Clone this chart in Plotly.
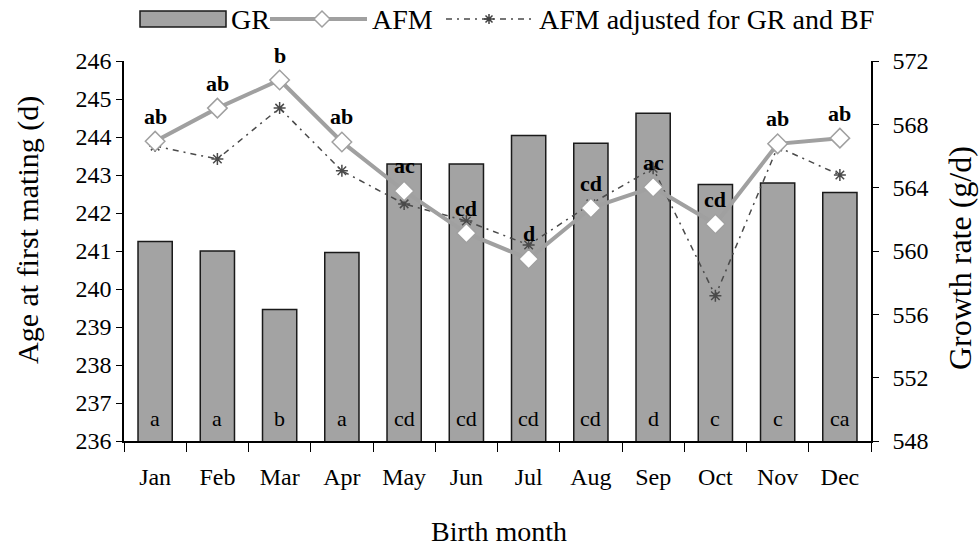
import plotly.graph_objects as go

months = ["Jan", "Feb", "Mar", "Apr", "May", "Jun", "Jul", "Aug", "Sep", "Oct", "Nov", "Dec"]
gr = [560.6, 560.0, 556.3, 559.9, 565.5, 565.5, 567.3, 566.8, 568.7, 564.2, 564.3, 563.7]
afm = [243.89, 244.76, 245.5, 243.87, 242.58, 241.47, 240.79, 242.13, 242.68, 241.71, 243.82, 243.97]
afm_adj = [243.76, 243.42, 244.76, 243.11, 242.24, 241.79, 241.16, 242.24, 243.18, 239.82, 243.74, 243.0]
afm_letters = ["ab", "ab", "b", "ab", "ac", "cd", "d", "cd", "ac", "cd", "ab", "ab"]
gr_letters = ["a", "a", "b", "a", "cd", "cd", "cd", "cd", "d", "c", "c", "ca"]

FONT = "Liberation Serif, Times New Roman, serif"
L, R, T, B = 124, 109, 61, 105
W, H = 980, 546
PW, PH = W - L - R, H - T - B


def px(x):
    return (x - L) / PW


def py(y):
    return (H - B - y) / PH


fig = go.Figure()
fig.add_trace(go.Bar(x=months, y=gr, name="GR", yaxis="y", width=0.55,
                     marker=dict(color="#a3a3a3", line=dict(color="#1a1a1a", width=1.5)),
                     showlegend=False))
fig.add_trace(go.Scatter(x=months, y=afm_adj, name="AFM adjusted for GR and BF", yaxis="y2",
                         mode="lines+markers",
                         line=dict(color="#4a4a4a", width=1.5, dash="6px,5px,2px,5px"),
                         marker=dict(symbol="asterisk-open", size=10, line=dict(color="#404040", width=1.5)),
                         showlegend=False))
fig.add_trace(go.Scatter(x=months, y=afm, name="AFM", yaxis="y2", mode="lines+markers",
                         line=dict(color="#a0a0a0", width=4),
                         marker=dict(symbol="diamond", size=15, color="white",
                                     line=dict(color="#a0a0a0", width=1.5)),
                         showlegend=False))

ann = []
for m, v, t in zip(months, afm, afm_letters):
    ann.append(dict(x=m, y=v, xref="x", yref="y2", text="<b>" + t + "</b>", showarrow=False,
                    yshift=25, font=dict(family=FONT, size=22, color="black")))
for m, t in zip(months, gr_letters):
    ann.append(dict(x=m, y=548, xref="x", yref="y", text=t, showarrow=False, yanchor="bottom",
                    yshift=8, font=dict(family=FONT, size=22, color="black")))

# axis titles
ann.append(dict(x=px(499), y=py(531), xref="paper", yref="paper", text="Birth month", showarrow=False,
                xanchor="center", yanchor="middle", font=dict(family=FONT, size=28, color="black")))
ann.append(dict(x=px(28), y=py(230), xref="paper", yref="paper", text="Age at first mating (d)",
                xanchor="center", yanchor="middle",
                showarrow=False, textangle=-90, font=dict(family=FONT, size=30, color="black")))
ann.append(dict(x=px(960), y=py(258), xref="paper", yref="paper", text="Growth rate (g/d)",
                xanchor="center", yanchor="middle",
                showarrow=False, textangle=-90, font=dict(family=FONT, size=32, color="black")))

# legend
ly = 19
legend_text = [("GR", 229), ("AFM", 370), ("AFM adjusted for GR and BF", 537)]
for t, x0 in legend_text:
    ann.append(dict(x=px(x0), y=py(ly), xref="paper", yref="paper", text=t, showarrow=False,
                    xanchor="left", yanchor="middle", font=dict(family=FONT, size=28, color="black")))

shapes = [
    dict(type="rect", xref="paper", yref="paper", x0=px(140), x1=px(226), y0=py(27), y1=py(11),
         fillcolor="#a3a3a3", line=dict(color="#1a1a1a", width=1.5)),
    dict(type="line", xref="paper", yref="paper", x0=px(270), x1=px(367), y0=py(ly), y1=py(ly),
         line=dict(color="#a0a0a0", width=4)),
    dict(type="path", xref="paper", yref="paper",
         path=f"M {px(314)},{py(ly)} L {px(322)},{py(ly-8)} L {px(330)},{py(ly)} L {px(322)},{py(ly+8)} Z",
         fillcolor="white", line=dict(color="#a0a0a0", width=1.5)),
    dict(type="line", xref="paper", yref="paper", x0=px(446), x1=px(531), y0=py(ly), y1=py(ly),
         line=dict(color="#4a4a4a", width=1.5, dash="6px,5px,2px,5px")),
    dict(type="path", xref="paper", yref="paper",
         path=(f"M {px(484)},{py(ly)} L {px(494)},{py(ly)} "
               f"M {px(489)},{py(ly-5)} L {px(489)},{py(ly+5)} "
               f"M {px(485.5)},{py(ly-3.5)} L {px(492.5)},{py(ly+3.5)} "
               f"M {px(485.5)},{py(ly+3.5)} L {px(492.5)},{py(ly-3.5)}"),
         line=dict(color="#404040", width=1.5)),
]

tickfont = dict(family=FONT, size=24, color="black")
fig.update_layout(
    width=W, height=H,
    margin=dict(l=L, r=R, t=T, b=B, pad=0),
    plot_bgcolor="white", paper_bgcolor="white",
    showlegend=False,
    xaxis=dict(type="category", range=[-0.5, 11.5], tickson="boundaries", ticks="outside", ticklen=9,
               tickcolor="black", showline=True, linecolor="black", linewidth=1.5, showgrid=False,
               tickfont=tickfont, zeroline=False, ticklabelstandoff=13),
    yaxis=dict(side="right", range=[548, 572], dtick=4, tick0=548, ticks="outside", ticklen=6,
               tickcolor="black", showline=True, linecolor="black", linewidth=1.5, showgrid=False,
               tickfont=tickfont, zeroline=False, ticklabelstandoff=9),
    yaxis2=dict(side="left", overlaying="y", range=[236, 246], dtick=1, tick0=236, ticks="outside",
                ticklen=6, tickcolor="black", showline=True, linecolor="black", linewidth=1.5,
                showgrid=False, tickfont=tickfont, zeroline=False, anchor="x"),
    annotations=ann,
    shapes=shapes,
)

fig.write_html("out.html", config={"displayModeBar": False},
               post_script="document.body.style.margin='0';document.body.style.overflow='hidden';")
